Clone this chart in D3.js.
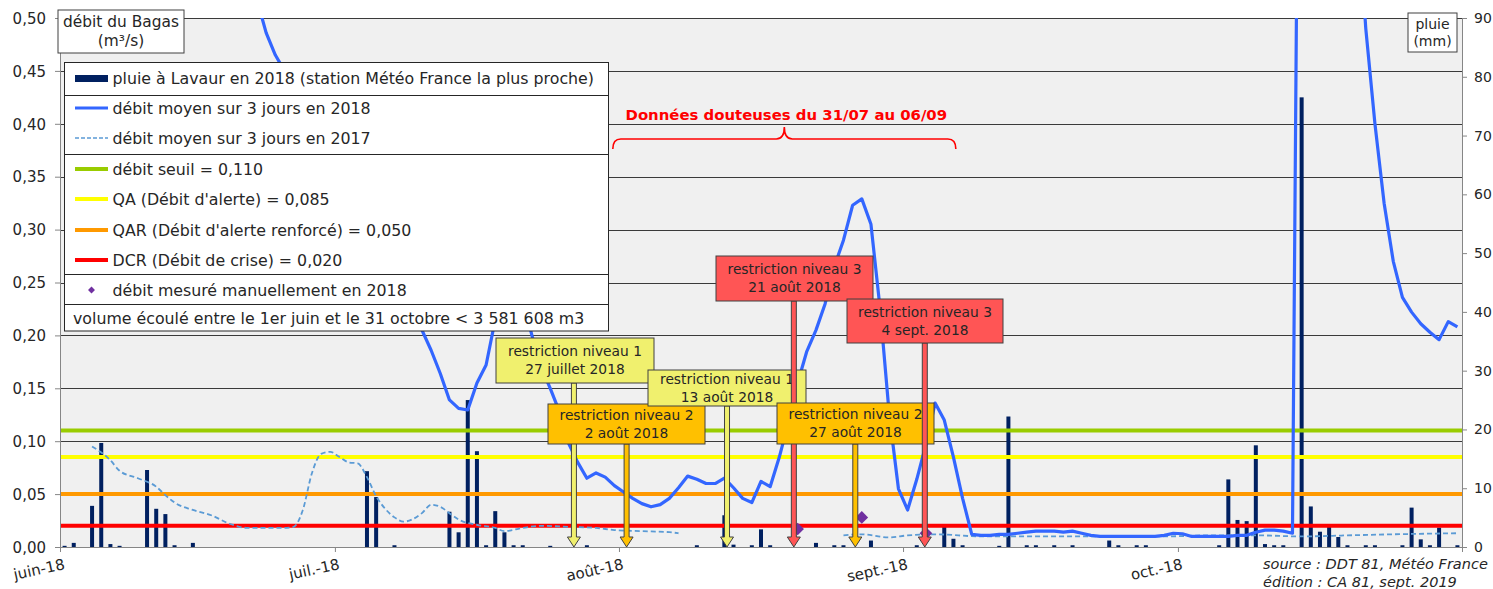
<!DOCTYPE html>
<html>
<head>
<meta charset="utf-8">
<script src="https://cdn.jsdelivr.net/npm/d3@7"></script>
<style>
  body { margin: 0; background: #fff; font-family: "DejaVu Sans", Verdana, sans-serif; }
  .tick text { font-size: 15px; fill: #262626; font-family: "DejaVu Sans", Verdana, sans-serif; }
  .axis .domain, .axis .tick line { stroke: #868686; }
</style>
</head>
<body>
<div id="chart"></div>
<script>
// --- data ---
// month ticks
var monthTicks = ["2018-06-01", "2018-07-01", "2018-08-01", "2018-09-01", "2018-10-01"];
var monthLabels = ["juin-18", "juil.-18", "août-18", "sept.-18", "oct.-18"];

// daily rain at Lavaur (mm)
var rainDates = ["2018-06-01","2018-06-02","2018-06-04","2018-06-05","2018-06-06","2018-06-07",
  "2018-06-10","2018-06-11","2018-06-12","2018-06-13","2018-06-15",
  "2018-07-04","2018-07-05","2018-07-07","2018-07-13","2018-07-14","2018-07-15","2018-07-16",
  "2018-07-17","2018-07-18","2018-07-19","2018-07-20","2018-07-21","2018-07-24","2018-07-28",
  "2018-08-09","2018-08-12","2018-08-13","2018-08-15","2018-08-16","2018-08-17","2018-08-22",
  "2018-08-24","2018-08-25","2018-08-28","2018-09-02","2018-09-05","2018-09-06","2018-09-07",
  "2018-09-11","2018-09-12","2018-09-14","2018-09-15","2018-09-17","2018-09-19","2018-09-23",
  "2018-09-24","2018-09-26","2018-09-27","2018-10-05","2018-10-06","2018-10-07","2018-10-08",
  "2018-10-09","2018-10-10","2018-10-11","2018-10-12","2018-10-14","2018-10-15","2018-10-16",
  "2018-10-17","2018-10-18","2018-10-19","2018-10-21","2018-10-22","2018-10-25","2018-10-26",
  "2018-10-27","2018-10-28","2018-10-29","2018-10-31"];
var rainMm = [0.2,0.7,7.0,17.7,0.5,0.2,
  13.1,6.5,5.6,0.3,0.7,
  12.9,8.5,0.3,6.0,2.5,25.0,16.3,
  0.3,6.1,2.5,0.3,0.3,0.2,0.3,
  0.3,5.4,0.4,0.3,3.0,0.3,0.7,
  0.3,0.3,1.1,0.3,3.4,1.4,0.3,
  0.2,22.2,0.3,0.3,0.3,0.3,1.1,
  0.3,0.3,0.3,0.3,11.5,4.6,4.4,
  17.3,0.5,0.3,0.3,76.5,6.9,2.6,
  3.6,1.7,0.3,0.3,0.3,0.3,6.7,
  1.3,0.3,3.3,0.3];

// 3-day mean flow 2018 (m3/s), one value per day from 1 June to 31 October
var flow2018 = [1.30,1.20,1.10,1.05,1.10,1.05,0.98,0.92,0.88,0.90,
  0.88,0.84,0.80,0.75,0.71,0.68,0.65,0.62,0.59,0.57,
  0.545,0.517,0.486,0.465,0.45,0.43,0.41,0.40,0.385,0.37,
  0.355,0.34,0.33,0.32,0.30,0.28,0.26,0.24,0.225,0.205,
  0.186,0.164,0.139,0.131,0.1295,0.155,0.172,0.215,0.25,0.26,
  0.235,0.20,0.17,0.15,0.128,0.098,0.08,0.065,0.070,0.066,
  0.058,0.052,0.046,0.041,0.038,0.040,0.046,0.056,0.067,0.064,
  0.060,0.060,0.065,0.056,0.046,0.042,0.062,0.057,0.085,0.118,
  0.155,0.185,0.205,0.23,0.265,0.29,0.323,0.329,0.305,0.225,
  0.125,0.055,0.035,0.064,0.097,0.136,0.12,0.085,0.046,0.012,
  0.011,0.011,0.012,0.012,0.013,0.014,0.015,0.015,0.015,0.014,
  0.015,0.013,0.011,0.010,0.010,0.010,0.010,0.010,0.010,0.010,
  0.011,0.013,0.0125,0.010,0.010,0.010,0.010,0.010,0.011,0.011,
  0.014,0.016,0.016,0.015,0.013,1.15,1.5,1.4,1.2,1.0,
  0.8,0.62,0.49,0.40,0.325,0.27,0.236,0.222,0.211,0.203,
  0.196,0.213,0.208];

// 3-day mean flow 2017 (dashed), null = no data
var flow2017Dates = ["2018-06-04","2018-06-06","2018-06-07","2018-06-09","2018-06-11","2018-06-12",
  "2018-06-13","2018-06-15","2018-06-17","2018-06-19","2018-06-21","2018-06-23","2018-06-25",
  "2018-06-26","2018-06-27","2018-06-28","2018-06-29","2018-06-30","2018-07-01","2018-07-02",
  "2018-07-03","2018-07-04","2018-07-05","2018-07-06","2018-07-07","2018-07-08","2018-07-10",
  "2018-07-11","2018-07-12","2018-07-13","2018-07-14","2018-07-16","2018-07-18","2018-07-19",
  "2018-07-21","2018-07-23","2018-07-26","2018-07-29","2018-07-31","2018-08-03","2018-08-06",
  "2018-08-07","2018-08-15",
  "2018-08-25","2018-08-27","2018-08-30","2018-09-01","2018-09-04","2018-09-09","2018-09-19",
  "2018-09-29","2018-10-04","2018-10-09","2018-10-14","2018-10-19","2018-10-24","2018-10-31"];
var flow2017 = [0.095,0.082,0.072,0.065,0.057,0.049,
  0.042,0.035,0.030,0.022,0.018,0.018,0.018,
  0.019,0.035,0.070,0.088,0.090,0.085,0.080,
  0.079,0.066,0.048,0.036,0.028,0.024,0.032,
  0.040,0.038,0.032,0.026,0.021,0.018,0.015,
  0.018,0.020,0.019,0.018,0.016,0.015,0.014,
  0.013,null,
  0.011,0.012,0.009,0.011,0.012,0.010,0.010,
  0.010,0.011,0.011,0.010,0.011,0.012,0.013];

// manual flow measurements 2018
var manualDates = ["2018-08-20", "2018-08-27", "2018-09-03"];
var manualFlow = [0.017, 0.028, 0.013];

// thresholds
var thresholdNames = ["débit seuil = 0,110", "QA (Débit d'alerte) = 0,085",
  "QAR (Débit d'alerte renforcé) = 0,050", "DCR (Débit de crise) = 0,020"];
var thresholdValues = [0.110, 0.085, 0.050, 0.020];
var thresholdColors = ["#99cc00", "#ffff00", "#ff9900", "#ff0000"];

// restriction callouts: label lines and where the arrow points (days after 1 June)
var restrictLines = [["restriction niveau 1", "27 juillet 2018"], ["restriction niveau 2", "2 août 2018"],
  ["restriction niveau 1", "13 août 2018"], ["restriction niveau 3", "21 août 2018"],
  ["restriction niveau 2", "27 août 2018"], ["restriction niveau 3", "4 sept. 2018"]];
var restrictArrowDay = [56.1, 61.85, 72.8, 80.1, 86.8, 94.4];
var restrictLevel = [1, 2, 1, 3, 2, 3];

// --- layout ---
var W = 1493, H = 589;
var plot = {left: 60, right: 1462, top: 18, bottom: 547};
var levelFill = {1: "#f0f06e", 2: "#ffc000", 3: "#ff5555"};
// callout boxes [x0, y0, x1, y1]
var calloutBoxes = [[496, 338, 654, 383], [548, 404, 705, 444], [648, 370, 806, 406],
  [716, 256, 873, 301], [777, 403, 934, 444], [847, 299, 1003, 343]];

var parse = d3.timeParse("%Y-%m-%d");
var start = parse("2018-06-01");
var dayCats = d3.timeDay.range(start, parse("2018-11-01"));
var mid = function(d) { return d3.timeHour.offset(d, 12); };

var x = d3.scaleTime().domain([start, parse("2018-11-01")]).range([plot.left, plot.right]);
var yQ = d3.scaleLinear().domain([0, 0.5]).range([plot.bottom, plot.top]);
var yP = d3.scaleLinear().domain([0, 90]).range([plot.bottom, plot.top]);

var svg = d3.select("#chart").append("svg")
    .attr("width", W)
    .attr("height", H)
    .style("font-family", "'DejaVu Sans', Verdana, sans-serif");

svg.append("defs").append("clipPath").attr("id", "clip")
  .append("rect")
    .attr("x", plot.left).attr("y", plot.top)
    .attr("width", plot.right - plot.left).attr("height", plot.bottom - plot.top);

// plot background
svg.append("rect")
    .attr("x", plot.left).attr("y", plot.top)
    .attr("width", plot.right - plot.left).attr("height", plot.bottom - plot.top)
    .attr("fill", "#f0f0f0");

// gridlines
var qTicks = d3.range(0, 11).map(function(i) { return i * 0.05; });
svg.append("g").selectAll("line")
  .data(qTicks.slice(1))
  .enter().append("line")
    .attr("x1", plot.left).attr("x2", plot.right)
    .attr("y1", function(d) { return Math.round(yQ(d)) + 0.5; })
    .attr("y2", function(d) { return Math.round(yQ(d)) + 0.5; })
    .attr("stroke", "#3a3a3a")
    .attr("stroke-width", 1);

var g = svg.append("g").attr("clip-path", "url(#clip)");

// rain bars
g.append("g").selectAll("rect")
  .data(rainDates)
  .enter().append("rect")
    .attr("x", function(d) { return x(mid(parse(d))) - 2; })
    .attr("width", 4)
    .attr("y", function(d, i) { return yP(rainMm[i]); })
    .attr("height", function(d, i) { return plot.bottom - yP(rainMm[i]); })
    .attr("fill", "#002060");

// threshold lines
g.append("g").selectAll("line")
  .data(thresholdValues)
  .enter().append("line")
    .attr("x1", plot.left).attr("x2", plot.right)
    .attr("y1", function(d) { return yQ(d); })
    .attr("y2", function(d) { return yQ(d); })
    .attr("stroke", function(d, i) { return thresholdColors[i]; })
    .attr("stroke-width", 4);

// 2017 dashed line
var line17 = d3.line()
    .defined(function(d) { return d[1] != null; })
    .x(function(d) { return x(mid(parse(d[0]))); })
    .y(function(d) { return yQ(d[1]); })
    .curve(d3.curveMonotoneX);
g.append("path")
    .datum(flow2017Dates.map(function(d, i) { return [d, flow2017[i]]; }))
    .attr("d", line17)
    .attr("fill", "none")
    .attr("stroke", "#5b9bd5")
    .attr("stroke-width", 1.8)
    .attr("stroke-dasharray", "5,3");

// 2018 line
var line18 = d3.line()
    .x(function(d, i) { return x(mid(dayCats[i])); })
    .y(function(d) { return yQ(d); });
g.append("path")
    .datum(flow2018)
    .attr("d", line18)
    .attr("fill", "none")
    .attr("stroke", "#3366ff")
    .attr("stroke-width", 3.2)
    .attr("stroke-linejoin", "round");

// manual measurements
g.append("g").selectAll("path")
  .data(manualDates)
  .enter().append("path")
    .attr("d", d3.symbol().type(d3.symbolSquare).size(80))
    .attr("transform", function(d, i) {
      return "translate(" + x(mid(parse(d))) + "," + yQ(manualFlow[i]) + ") rotate(45)";
    })
    .attr("fill", "#7030a0");

// axes
var fmt = function(d) { return d3.format(".2f")(d).replace(".", ","); };
svg.append("g").attr("class", "axis")
    .attr("transform", "translate(" + plot.left + ",0)")
    .call(d3.axisLeft(yQ).tickValues(qTicks).tickFormat(fmt).tickSize(5).tickPadding(9))
    .call(function(s) { s.selectAll("text").attr("dy", "0.35em"); });

svg.append("g").attr("class", "axis")
    .attr("transform", "translate(" + plot.right + ",0)")
    .call(d3.axisRight(yP).tickValues(d3.range(0, 91, 10)).tickSize(5).tickPadding(7))
    .call(function(s) { s.selectAll("text").style("font-size", "14px"); });

var xAxis = svg.append("g").attr("class", "axis")
    .attr("transform", "translate(0," + plot.bottom + ")")
    .call(d3.axisBottom(x).tickValues(monthTicks.map(parse))
      .tickFormat(function(d, i) { return monthLabels[i]; }).tickSize(5));
xAxis.selectAll("text")
    .attr("text-anchor", "end")
    .attr("dy", null)
    .attr("y", 0)
    .attr("transform", "translate(5,22) rotate(-12)");

// "données douteuses" bracket
var bx0 = x(parse("2018-07-31")) + 3, bx1 = x(parse("2018-09-06")) + 7, bxm = (bx0 + bx1) / 2;
svg.append("path")
    .attr("d", "M" + bx0 + ",149 Q" + bx0 + ",139 " + (bx0 + 8) + ",139 L" + (bxm - 8) + ",139 Q" + bxm + ",139 " + bxm + ",127"
      + " Q" + bxm + ",139 " + (bxm + 8) + ",139 L" + (bx1 - 8) + ",139 Q" + bx1 + ",139 " + bx1 + ",149")
    .attr("fill", "none")
    .attr("stroke", "#ff0000")
    .attr("stroke-width", 1.6);
svg.append("text")
    .attr("x", bxm + 2).attr("y", 115).attr("dy", "0.35em")
    .attr("text-anchor", "middle")
    .attr("font-size", 14.9)
    .attr("font-weight", "bold")
    .attr("fill", "#ff0000")
    .text("Données douteuses du 31/07 au 06/09");

// restriction callouts
var call = svg.append("g").selectAll("g")
  .data(restrictLines)
  .enter().append("g");
call.append("path")
    .attr("d", function(d, i) {
      var ax = x(d3.timeHour.offset(start, restrictArrowDay[i] * 24));
      var y0 = calloutBoxes[i][3], tip = plot.bottom;
      return "M" + (ax - 2.5) + "," + y0 + " L" + (ax - 2.5) + "," + (tip - 10) + " L" + (ax - 6.5) + "," + (tip - 10)
        + " L" + ax + "," + tip + " L" + (ax + 6.5) + "," + (tip - 10) + " L" + (ax + 2.5) + "," + (tip - 10)
        + " L" + (ax + 2.5) + "," + y0 + " Z";
    })
    .attr("fill", function(d, i) { return levelFill[restrictLevel[i]]; })
    .attr("stroke", "#404040")
    .attr("stroke-width", 1);
call.append("rect")
    .attr("x", function(d, i) { return calloutBoxes[i][0]; })
    .attr("y", function(d, i) { return calloutBoxes[i][1]; })
    .attr("width", function(d, i) { return calloutBoxes[i][2] - calloutBoxes[i][0]; })
    .attr("height", function(d, i) { return calloutBoxes[i][3] - calloutBoxes[i][1]; })
    .attr("fill", function(d, i) { return levelFill[restrictLevel[i]]; })
    .attr("stroke", "#404040")
    .attr("stroke-width", 1);
call.each(function(d, i) {
  var b = calloutBoxes[i], cx = (b[0] + b[2]) / 2, cy = (b[1] + b[3]) / 2;
  d3.select(this).selectAll("text")
    .data(d)
    .enter().append("text")
      .attr("x", cx)
      .attr("y", function(t, j) { return cy + (j - 0.5) * 18; })
      .attr("dy", "0.35em")
      .attr("text-anchor", "middle")
      .attr("font-size", 13.8)
      .attr("fill", "#262626")
      .text(function(t) { return t; });
});

// axis title boxes
function titleBox(x0, y0, w, h, lines, fs, gap) {
  svg.append("rect").attr("x", x0).attr("y", y0).attr("width", w).attr("height", h)
      .attr("fill", "#fff").attr("stroke", "#404040").attr("stroke-width", 1);
  svg.append("g").selectAll("text")
    .data(lines)
    .enter().append("text")
      .attr("x", x0 + w / 2)
      .attr("y", function(d, i) { return y0 + h / 2 + (i - 0.5) * gap; })
      .attr("dy", "0.35em")
      .attr("text-anchor", "middle")
      .attr("font-size", fs)
      .attr("fill", "#262626")
      .text(function(d) { return d; });
}
titleBox(58, 10, 126, 43, ["débit du Bagas", "(m³/s)"], 15.4, 19);
titleBox(1408, 13, 49, 39, ["pluie", "(mm)"], 14, 17);

// legend
var lg = svg.append("g");
var L = {x0: 64.5, x1: 608.5, y0: 62.5, y1: 331};
lg.append("rect")
    .attr("x", L.x0).attr("y", L.y0)
    .attr("width", L.x1 - L.x0).attr("height", L.y1 - L.y0)
    .attr("fill", "#fff").attr("stroke", "#262626").attr("stroke-width", 1);
lg.selectAll("line.div")
  .data([95.5, 154.5, 274.5, 304.5])
  .enter().append("line")
    .attr("x1", L.x0).attr("x2", L.x1)
    .attr("y1", function(d) { return d; }).attr("y2", function(d) { return d; })
    .attr("stroke", "#262626");

var legendItems = ["pluie à Lavaur en 2018 (station Météo France la plus proche)",
  "débit moyen sur 3 jours en 2018", "débit moyen sur 3 jours en 2017"]
  .concat(thresholdNames, ["débit mesuré manuellement en 2018"]);
var legendY = [78, 108, 138, 169, 199, 230, 260, 290];
lg.selectAll("text.item")
  .data(legendItems)
  .enter().append("text")
    .attr("x", 112.5)
    .attr("y", function(d, i) { return legendY[i]; })
    .attr("dy", "0.35em")
    .attr("font-size", 15.8)
    .attr("fill", "#262626")
    .text(function(d) { return d; });
lg.append("rect").attr("x", 75).attr("y", 75).attr("width", 33).attr("height", 7).attr("fill", "#002060");
lg.append("line").attr("x1", 75).attr("x2", 108).attr("y1", legendY[1]).attr("y2", legendY[1])
    .attr("stroke", "#3366ff").attr("stroke-width", 3);
lg.append("line").attr("x1", 75).attr("x2", 108).attr("y1", legendY[2]).attr("y2", legendY[2])
    .attr("stroke", "#5b9bd5").attr("stroke-width", 1.5).attr("stroke-dasharray", "4,2");
lg.selectAll("line.thr")
  .data(thresholdColors)
  .enter().append("line")
    .attr("x1", 75).attr("x2", 108)
    .attr("y1", function(d, i) { return legendY[3 + i]; })
    .attr("y2", function(d, i) { return legendY[3 + i]; })
    .attr("stroke", function(d) { return d; })
    .attr("stroke-width", 4);
lg.append("path")
    .attr("d", d3.symbol().type(d3.symbolSquare).size(24))
    .attr("transform", "translate(91.5," + legendY[7] + ") rotate(45)")
    .attr("fill", "#7030a0");
lg.append("text")
    .attr("x", 73).attr("y", 318.5).attr("dy", "0.35em")
    .attr("font-size", 15.8).attr("fill", "#262626")
    .text("volume écoulé entre le 1er juin et le 31 octobre < 3 581 608 m3");

// source
svg.append("g").selectAll("text")
  .data(["source : DDT 81, Météo France", "édition : CA 81, sept. 2019"])
  .enter().append("text")
    .attr("x", 1263)
    .attr("y", function(d, i) { return 564 + i * 18; })
    .attr("dy", "0.35em")
    .attr("font-size", 14.5)
    .attr("font-style", "italic")
    .attr("fill", "#262626")
    .text(function(d) { return d; });
</script>
</body>
</html>
